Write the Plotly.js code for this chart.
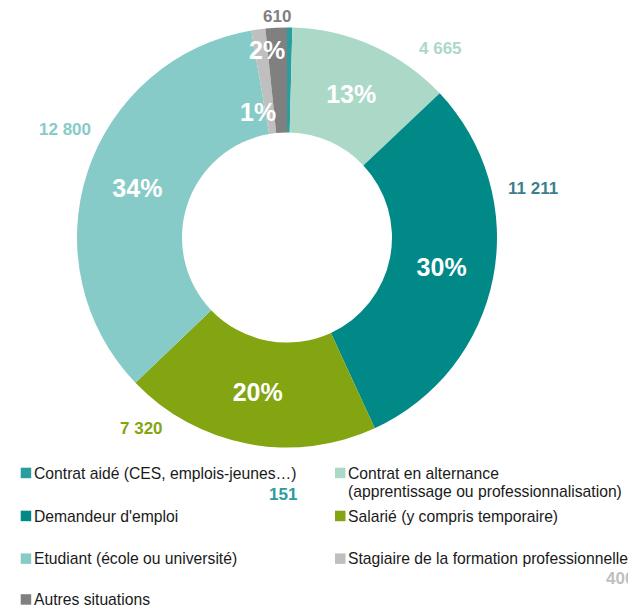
<!DOCTYPE html>
<html>
<head>
<meta charset="utf-8">
<script src="https://cdn.plot.ly/plotly-3.0.1.min.js"></script>
<style>html,body{margin:0;padding:0;background:#fff;}#chart{width:628px;height:607px;}</style>
</head>
<body>
<div id="chart"></div>
<script>
var categories = [
  "Contrat aidé (CES, emplois-jeunes…)",
  "Contrat en alternance<br>(apprentissage ou professionnalisation)",
  "Demandeur d'emploi",
  "Salarié (y compris temporaire)",
  "Etudiant (école ou université)",
  "Stagiaire de la formation professionnelle",
  "Autres situations"
];
var values = [151, 4665, 11211, 7320, 12800, 400, 610];
var sliceColors = ["#2a9d9e", "#acd8c8", "#008987", "#83a512", "#87cbc8", "#bfbfbf", "#808080"];
var valueLabelColors = ["#2a9d9e", "#acd8c8", "#3d7f8c", "#83a512", "#87cbc8", "#bfbfbf", "#808080"];

var W = 628, H = 607;
function px(x){ return x / W; }
function py(y){ return 1 - y / H; }
var FONT = "Liberation Sans";

var total = values.reduce(function(a,b){return a+b;}, 0);
function fmt(v){ return String(v).replace(/\B(?=(\d{3})+(?!\d))/g, " "); }
function pct(v){ return Math.round(100 * v / total) + "%"; }

// inside percentage labels: big slices by Plotly, small ones as annotations
var insideShown = [false, true, true, true, true, false, false];
var texts = values.map(function(v, i){ return insideShown[i] ? pct(v) : ""; });

var trace = {
  type: "pie",
  labels: categories,
  values: values,
  sort: false,
  direction: "clockwise",
  rotation: 0,
  hole: 0.5,
  marker: {colors: sliceColors, line: {width: 0}},
  text: texts,
  textinfo: "text",
  textposition: "inside",
  insidetextorientation: "horizontal",
  insidetextfont: {family: FONT, size: 25, color: "#ffffff", weight: "bold"},
  domain: {x: [px(77), px(497)], y: [py(447.5), py(27.5)]},
  showlegend: false,
  hoverinfo: "label+value+percent"
};

var annotations = [];
var shapes = [];

// value labels outside the ring
var valuePos = [[283, 494], [440, 49], [533, 188], [141, 428], [65, 129], [620, 578], [277, 17]];
values.forEach(function(v, i){
  annotations.push({
    xref: "paper", yref: "paper",
    x: px(valuePos[i][0]), y: py(valuePos[i][1]),
    xanchor: "center", yanchor: "middle",
    text: fmt(v), showarrow: false,
    font: {family: FONT, size: 17, color: valueLabelColors[i], weight: "bold"}
  });
});

// percentage labels for the thin slices
var smallPctPos = {5: [257.5, 112], 6: [267, 50]};
Object.keys(smallPctPos).forEach(function(k){
  var i = +k;
  annotations.push({
    xref: "paper", yref: "paper",
    x: px(smallPctPos[k][0]), y: py(smallPctPos[k][1]),
    xanchor: "center", yanchor: "middle",
    text: pct(values[i]), showarrow: false,
    font: {family: FONT, size: 25, color: "#ffffff", weight: "bold"}
  });
});

// custom legend (two columns)
var legendPos = [[20.7, 473], [335, 473], [20.7, 516], [335, 516], [20.7, 558.7], [335, 558.7], [20.7, 599.5]];
var lineGap = 18.6;
categories.forEach(function(c, i){
  var lx = legendPos[i][0], ly = legendPos[i][1];
  shapes.push({
    type: "rect", xref: "paper", yref: "paper",
    x0: px(lx), x1: px(lx + 10.5), y0: py(ly + 5.2), y1: py(ly - 5.3),
    fillcolor: sliceColors[i], line: {width: 0}
  });
  c.split("<br>").forEach(function(line, j){
    annotations.push({
      xref: "paper", yref: "paper",
      x: px(lx + 10.8), y: py(ly + j * lineGap),
      xanchor: "left", yanchor: "middle", align: "left",
      text: line, showarrow: false,
      font: {family: FONT, size: 15.7, color: "#1a1a1a"}
    });
  });
});

var layout = {
  width: W, height: H,
  margin: {l: 0, r: 0, t: 0, b: 0},
  paper_bgcolor: "#ffffff",
  showlegend: false,
  annotations: annotations,
  shapes: shapes
};

Plotly.newPlot("chart", [trace], layout, {displayModeBar: false, staticPlot: true});
</script>
</body>
</html>
